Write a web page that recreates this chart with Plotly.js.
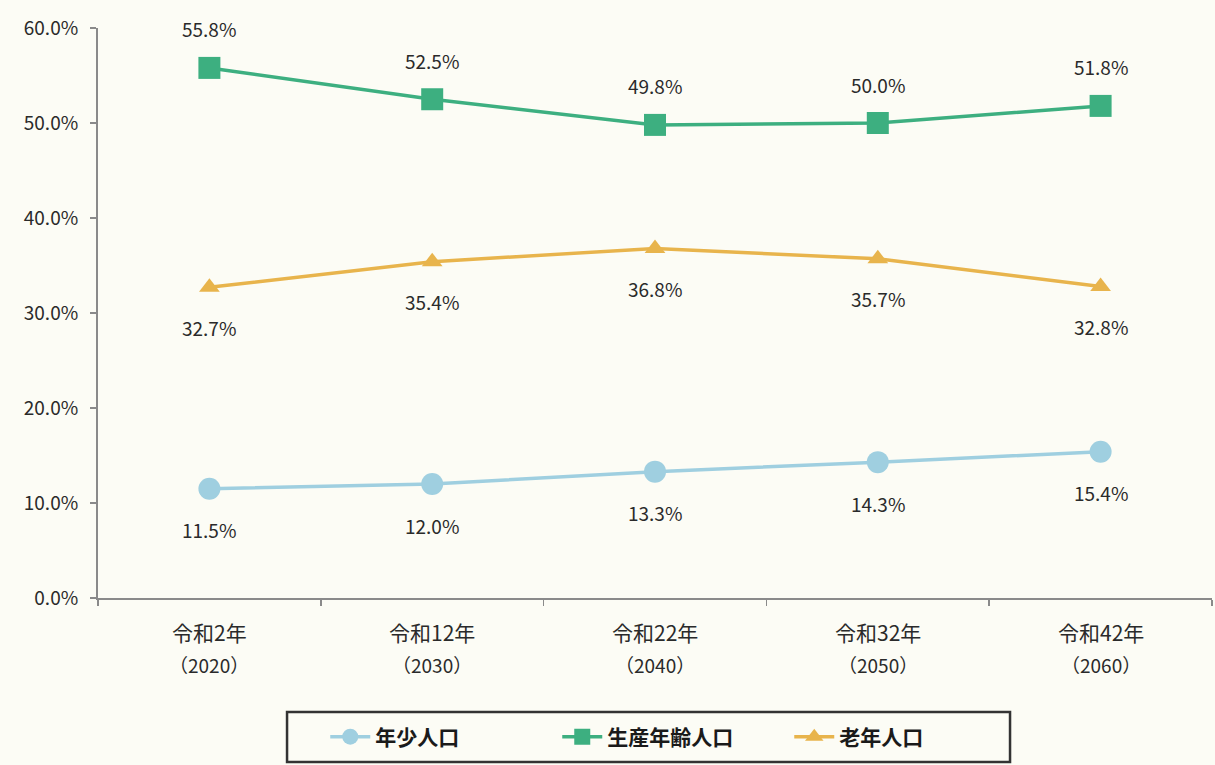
<!DOCTYPE html>
<html><head><meta charset="utf-8">
<script src="https://cdn.plot.ly/plotly-3.0.1.min.js"></script>
<style>html,body{margin:0;padding:0;background:#fcfcf5;}</style>
</head><body>
<div id="chart" style="width:1215px;height:765px;"></div>
<script>
const categories = ["令和2年","令和12年","令和22年","令和32年","令和42年"];
const years = ["（2020）","（2030）","（2040）","（2050）","（2060）"];
const seriesNames = ["年少人口","生産年齢人口","老年人口"];
const youth = [11.5, 12.0, 13.3, 14.3, 15.4];
const working = [55.8, 52.5, 49.8, 50.0, 51.8];
const elderly = [32.7, 35.4, 36.8, 35.7, 32.8];
const yTickVals = [0, 10, 20, 30, 40, 50, 60];
const yTickText = ["0.0%","10.0%","20.0%","30.0%","40.0%","50.0%","60.0%"];

const font = "'Noto Sans CJK JP', 'Noto Sans', sans-serif";
const txt = "#2a2a2a";
const colors = {youth:"#9fcfe0", working:"#3daf80", elderly:"#e8b44c"};

const traces = [
  {x:categories, y:youth, name:seriesNames[0], type:"scatter", mode:"lines+markers",
   line:{color:colors.youth, width:3.5}, marker:{symbol:"circle", size:22, color:colors.youth}},
  {x:categories, y:working, name:seriesNames[1], type:"scatter", mode:"lines+markers",
   line:{color:colors.working, width:3.5}, marker:{symbol:"square", size:22, color:colors.working}},
  {x:categories, y:elderly, name:seriesNames[2], type:"scatter", mode:"lines+markers",
   line:{color:colors.elderly, width:3.5}, marker:{symbol:"triangle-up", size:18, color:colors.elderly}}
];

const annotations = [];
function addLabels(vals, shift){
  vals.forEach((v,i)=>annotations.push({x:categories[i], y:v, xref:"x", yref:"y",
    text:v.toFixed(1)+"%", showarrow:false, yshift:shift,
    font:{family:font, size:19, color:txt}}));
}
addLabels(working, 39);
addLabels(elderly, -40);
addLabels(youth, -41);
categories.forEach((c,i)=>{
  annotations.push({x:c, y:0, xref:"x", yref:"paper", yanchor:"middle", yshift:-34,
    text:c, showarrow:false, font:{family:font, size:21, color:txt}});
  annotations.push({x:c, y:0, xref:"x", yref:"paper", yanchor:"middle", yshift:-66,
    text:years[i], showarrow:false, font:{family:font, size:19, color:txt}});
});

const layout = {
  width:1215, height:765,
  paper_bgcolor:"#fcfcf5", plot_bgcolor:"#fcfcf5",
  margin:{l:98, r:3, t:28, b:167},
  showlegend:true,
  font:{family:font, size:19, color:txt},
  xaxis:{type:"category", range:[-0.5,4.5], showline:true, linecolor:"#8a8a8a", linewidth:2,
    ticks:"outside", tickson:"boundaries", ticklen:6, tickcolor:"#8a8a8a", tickwidth:1.5,
    showgrid:false, zeroline:false, showticklabels:false},
  yaxis:{range:[0,60], tickvals:yTickVals, ticktext:yTickText, showline:true, linecolor:"#8a8a8a", linewidth:2,
    ticks:"outside", ticklen:6, tickcolor:"#8a8a8a", tickwidth:1.5, showgrid:false, zeroline:false,
    ticklabelstandoff:8, tickfont:{family:font, size:19, color:txt}},
  legend:{orientation:"h", x:0.204, xanchor:"left", y:-0.2439, yanchor:"middle",
    bgcolor:"rgba(0,0,0,0)", borderwidth:0,
    font:{family:font, size:21, color:"#1a1a1a", weight:"bold"}, itemwidth:40,
    entrywidthmode:"pixels", entrywidth:177},
  shapes:[{type:"rect", xref:"paper", yref:"paper", x0:0.1697, x1:0.8187, y0:-0.2, y1:-0.2877,
    line:{color:"#333", width:2.5}, fillcolor:"rgba(0,0,0,0)"}],
  annotations:annotations
};
Plotly.newPlot("chart", traces, layout, {displayModeBar:false, staticPlot:true});
</script>
</body></html>
